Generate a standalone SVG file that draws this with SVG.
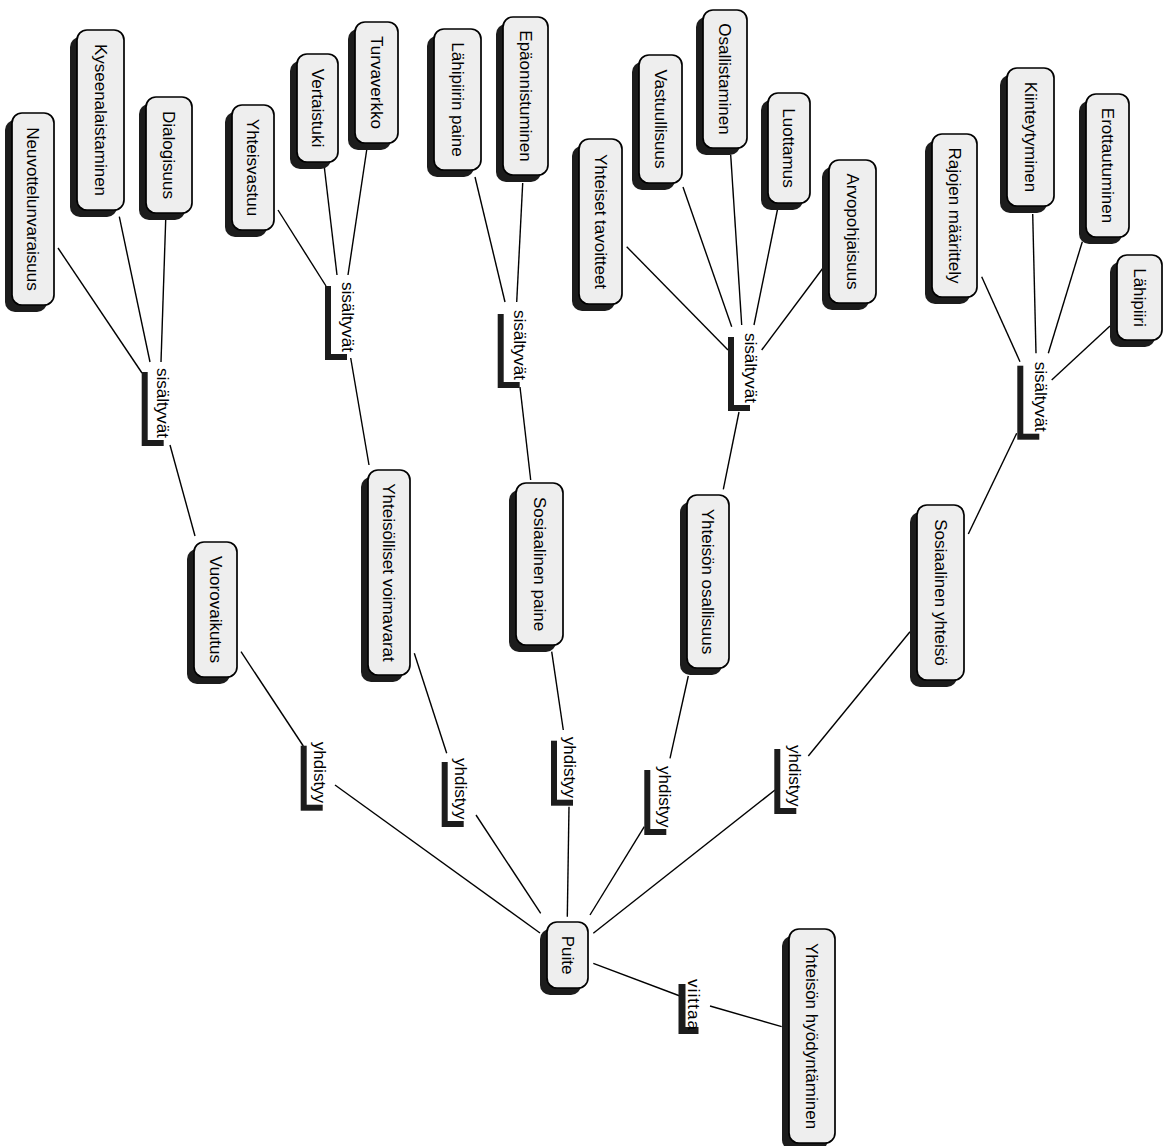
<svg xmlns="http://www.w3.org/2000/svg" width="1173" height="1146" viewBox="0 0 1173 1146">
<style>
text{font-family:"Liberation Sans",Arial,Helvetica,sans-serif;font-size:17px;fill:#000}
.nd text{text-anchor:middle}
.nd .s{fill:#1c1c1c}
.nd .b{fill:#eeeeee;stroke:#000;stroke-width:1.7}
.lb .s{fill:#1c1c1c}
.lb .b{fill:#fff}
#edges line{stroke:#000;stroke-width:1.4;fill:none}
</style>
<rect width="1173" height="1146" fill="#fff"/>
<g id="edges">
<line x1="58" y1="248" x2="142" y2="373"/>
<line x1="119.3" y1="216.7" x2="150" y2="362"/>
<line x1="165.7" y1="220" x2="161" y2="362"/>
<line x1="170" y1="445" x2="195" y2="536"/>
<line x1="278" y1="210" x2="326" y2="286"/>
<line x1="324.3" y1="167" x2="337" y2="275"/>
<line x1="366.7" y1="150" x2="348" y2="275"/>
<line x1="350.7" y1="358" x2="369" y2="465"/>
<line x1="475" y1="177" x2="505" y2="302"/>
<line x1="522.7" y1="183" x2="516.7" y2="302"/>
<line x1="520" y1="387" x2="530.7" y2="480"/>
<line x1="626.7" y1="246.7" x2="728" y2="350"/>
<line x1="683" y1="187" x2="731.7" y2="326.7"/>
<line x1="730.7" y1="155" x2="741.7" y2="325"/>
<line x1="778" y1="207" x2="754" y2="325"/>
<line x1="823" y1="268" x2="761.7" y2="350"/>
<line x1="739" y1="412" x2="723.3" y2="489.3"/>
<line x1="981.7" y1="276.7" x2="1020" y2="361.7"/>
<line x1="1032.7" y1="214" x2="1036" y2="353.3"/>
<line x1="1082.3" y1="241.7" x2="1048.3" y2="353.3"/>
<line x1="1110" y1="326" x2="1051.7" y2="380"/>
<line x1="1016.7" y1="433.3" x2="968.3" y2="534"/>
<line x1="241" y1="651.7" x2="303.3" y2="746"/>
<line x1="335" y1="785" x2="540" y2="933"/>
<line x1="414.3" y1="653.3" x2="446.7" y2="753.3"/>
<line x1="476" y1="815" x2="540.7" y2="913.3"/>
<line x1="551.7" y1="651.7" x2="563.3" y2="730"/>
<line x1="569" y1="806.7" x2="567.3" y2="916.7"/>
<line x1="688.3" y1="676" x2="670" y2="758.3"/>
<line x1="644.3" y1="826.7" x2="590" y2="915"/>
<line x1="910" y1="631.7" x2="808.3" y2="756"/>
<line x1="775" y1="790" x2="593.3" y2="933.3"/>
<line x1="593.3" y1="963.3" x2="680" y2="996"/>
<line x1="710" y1="1006" x2="781.7" y2="1026.7"/>
</g>
<g id="n1" class="nd"><rect class="s" x="5" y="120" width="42" height="192" rx="10"/><rect class="b" x="12" y="113" width="42" height="192" rx="10"/><text transform="translate(33,209) rotate(90)" dy=".35em">Neuvottelunvaraisuus</text></g>
<g id="n2" class="nd"><rect class="s" x="70" y="37" width="47" height="180" rx="10"/><rect class="b" x="77" y="30" width="47" height="180" rx="10"/><text transform="translate(100.5,120) rotate(90)" dy=".35em">Kyseenalaistaminen</text></g>
<g id="n3" class="nd"><rect class="s" x="139" y="104" width="46" height="116" rx="10"/><rect class="b" x="146" y="97" width="46" height="116" rx="10"/><text transform="translate(169,155) rotate(90)" dy=".35em">Dialogisuus</text></g>
<g id="n4" class="nd"><rect class="s" x="225" y="112" width="42" height="125" rx="10"/><rect class="b" x="232" y="105" width="42" height="125" rx="10"/><text transform="translate(253,167.5) rotate(90)" dy=".35em">Yhteisvastuu</text></g>
<g id="n5" class="nd"><rect class="s" x="290" y="61" width="41" height="108" rx="10"/><rect class="b" x="297" y="54" width="41" height="108" rx="10"/><text transform="translate(317.5,108) rotate(90)" dy=".35em">Vertaistuki</text></g>
<g id="n6" class="nd"><rect class="s" x="348" y="29" width="43" height="121" rx="10"/><rect class="b" x="355" y="22" width="43" height="121" rx="10"/><text transform="translate(376.5,82.5) rotate(90)" dy=".35em">Turvaverkko</text></g>
<g id="n7" class="nd"><rect class="s" x="427" y="36" width="47" height="141" rx="10"/><rect class="b" x="434" y="29" width="47" height="141" rx="10"/><text transform="translate(457.5,99.5) rotate(90)" dy=".35em">Lähipiirin paine</text></g>
<g id="n8" class="nd"><rect class="s" x="496" y="24" width="45" height="158" rx="10"/><rect class="b" x="503" y="17" width="45" height="158" rx="10"/><text transform="translate(525.5,96) rotate(90)" dy=".35em">Epäonnistuminen</text></g>
<g id="n9" class="nd"><rect class="s" x="572" y="146" width="43" height="165" rx="10"/><rect class="b" x="579" y="139" width="43" height="165" rx="10"/><text transform="translate(600.5,221.5) rotate(90)" dy=".35em">Yhteiset tavoitteet</text></g>
<g id="n10" class="nd"><rect class="s" x="632" y="62" width="43" height="128" rx="10"/><rect class="b" x="639" y="55" width="43" height="128" rx="10"/><text transform="translate(660.5,119) rotate(90)" dy=".35em">Vastuullisuus</text></g>
<g id="n11" class="nd"><rect class="s" x="696" y="17" width="44" height="138" rx="10"/><rect class="b" x="703" y="10" width="44" height="138" rx="10"/><text transform="translate(725,79) rotate(90)" dy=".35em">Osallistaminen</text></g>
<g id="n12" class="nd"><rect class="s" x="761" y="100" width="42" height="110" rx="10"/><rect class="b" x="768" y="93" width="42" height="110" rx="10"/><text transform="translate(789,148) rotate(90)" dy=".35em">Luottamus</text></g>
<g id="n13" class="nd"><rect class="s" x="822" y="167" width="47" height="143" rx="10"/><rect class="b" x="829" y="160" width="47" height="143" rx="10"/><text transform="translate(852.5,231.5) rotate(90)" dy=".35em">Arvopohjaisuus</text></g>
<g id="n14" class="nd"><rect class="s" x="925" y="141" width="45" height="163" rx="10"/><rect class="b" x="932" y="134" width="45" height="163" rx="10"/><text transform="translate(954.5,215.5) rotate(90)" dy=".35em">Rajojen määrittely</text></g>
<g id="n15" class="nd"><rect class="s" x="1000" y="75" width="47" height="138" rx="10"/><rect class="b" x="1007" y="68" width="47" height="138" rx="10"/><text transform="translate(1030.5,137) rotate(90)" dy=".35em">Kiinteytyminen</text></g>
<g id="n16" class="nd"><rect class="s" x="1079" y="101" width="43" height="143" rx="10"/><rect class="b" x="1086" y="94" width="43" height="143" rx="10"/><text transform="translate(1107.5,165.5) rotate(90)" dy=".35em">Erottautuminen</text></g>
<g id="n17" class="nd"><rect class="s" x="1110" y="262" width="45" height="85" rx="10"/><rect class="b" x="1117" y="255" width="45" height="85" rx="10"/><text transform="translate(1139.5,297.5) rotate(90)" dy=".35em">Lähipiiri</text></g>
<g id="n18" class="nd"><rect class="s" x="187" y="549" width="43" height="135" rx="10"/><rect class="b" x="194" y="542" width="43" height="135" rx="10"/><text transform="translate(215.5,609.5) rotate(90)" dy=".35em">Vuorovaikutus</text></g>
<g id="n19" class="nd"><rect class="s" x="361" y="477" width="42" height="205" rx="10"/><rect class="b" x="368" y="470" width="42" height="205" rx="10"/><text transform="translate(389,572.5) rotate(90)" dy=".35em">Yhteisölliset voimavarat</text></g>
<g id="n20" class="nd"><rect class="s" x="509" y="490" width="47" height="162" rx="10"/><rect class="b" x="516" y="483" width="47" height="162" rx="10"/><text transform="translate(539.5,564) rotate(90)" dy=".35em">Sosiaalinen paine</text></g>
<g id="n21" class="nd"><rect class="s" x="680" y="502" width="42" height="173" rx="10"/><rect class="b" x="687" y="495" width="42" height="173" rx="10"/><text transform="translate(708,581.5) rotate(90)" dy=".35em">Yhteisön osallisuus</text></g>
<g id="n22" class="nd"><rect class="s" x="910" y="512" width="47" height="175" rx="10"/><rect class="b" x="917" y="505" width="47" height="175" rx="10"/><text transform="translate(940.5,592.5) rotate(90)" dy=".35em">Sosiaalinen yhteisö</text></g>
<g id="n23" class="nd"><rect class="s" x="540" y="929" width="41" height="66" rx="10"/><rect class="b" x="547" y="922" width="41" height="66" rx="10"/><text transform="translate(567.5,955) rotate(90)" dy=".35em">Puite</text></g>
<g id="n24" class="nd"><rect class="s" x="782" y="936" width="46" height="214" rx="10"/><rect class="b" x="789" y="929" width="46" height="214" rx="10"/><text transform="translate(812,1036) rotate(90)" dy=".35em">Yhteisön hyödyntäminen</text></g>
<g id="l1" class="lb"><rect class="s" x="141.7" y="372" width="22" height="74"/><rect class="b" x="147.7" y="366" width="22" height="74"/><text transform="translate(156.8,368) rotate(90)">sisältyvät</text></g>
<g id="l2" class="lb"><rect class="s" x="325" y="286" width="22" height="74"/><rect class="b" x="331" y="280" width="22" height="74"/><text transform="translate(341.5,282) rotate(90)">sisältyvät</text></g>
<g id="l3" class="lb"><rect class="s" x="497.7" y="314" width="22" height="74"/><rect class="b" x="503.7" y="308" width="22" height="74"/><text transform="translate(513.5,310) rotate(90)">sisältyvät</text></g>
<g id="l4" class="lb"><rect class="s" x="728" y="337" width="22" height="74"/><rect class="b" x="734" y="331" width="22" height="74"/><text transform="translate(745.2,333) rotate(90)">sisältyvät</text></g>
<g id="l5" class="lb"><rect class="s" x="1017.3" y="365.7" width="22" height="74"/><rect class="b" x="1023.3" y="359.7" width="22" height="74"/><text transform="translate(1035.2,361.7) rotate(90)">sisältyvät</text></g>
<g id="y1" class="lb"><rect class="s" x="300.7" y="745.7" width="22" height="65"/><rect class="b" x="306.7" y="739.7" width="22" height="65"/><text transform="translate(313.5,741.7) rotate(90)">yhdistyy</text></g>
<g id="y2" class="lb"><rect class="s" x="441.7" y="762" width="22" height="65"/><rect class="b" x="447.7" y="756" width="22" height="65"/><text transform="translate(455.2,758) rotate(90)">yhdistyy</text></g>
<g id="y3" class="lb"><rect class="s" x="551" y="740.7" width="22" height="65"/><rect class="b" x="557" y="734.7" width="22" height="65"/><text transform="translate(563.5,736.7) rotate(90)">yhdistyy</text></g>
<g id="y4" class="lb"><rect class="s" x="644.3" y="770" width="22" height="65"/><rect class="b" x="650.3" y="764" width="22" height="65"/><text transform="translate(658.5,766) rotate(90)">yhdistyy</text></g>
<g id="y5" class="lb"><rect class="s" x="774.3" y="749" width="22" height="65"/><rect class="b" x="780.3" y="743" width="22" height="65"/><text transform="translate(788.5,745) rotate(90)">yhdistyy</text></g>
<g id="v1" class="lb"><rect class="s" x="678.5" y="984" width="20" height="50"/><rect class="b" x="685.5" y="977" width="20" height="50"/><text transform="translate(687.5,979) rotate(90)" textLength="51" lengthAdjust="spacing">viittaa</text></g>
</svg>
